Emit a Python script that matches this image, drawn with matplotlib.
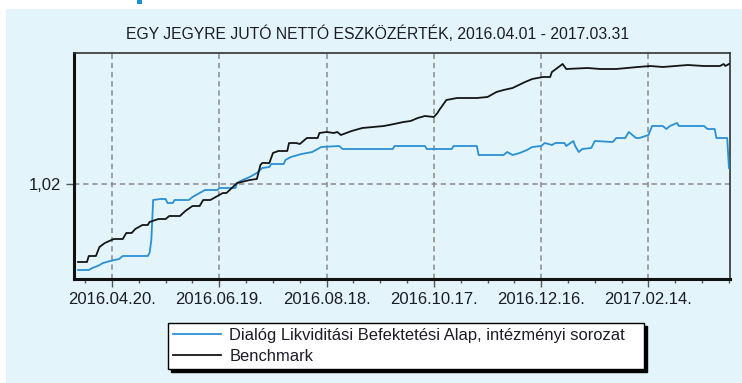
import matplotlib
matplotlib.use('Agg')

import matplotlib.pyplot as plt
import matplotlib.dates as mdates
import matplotlib.ticker as ticker
from matplotlib.patches import Rectangle
import pandas as pd

plt.rcParams['font.family'] = ['Liberation Sans', 'DejaVu Sans']

title = 'EGY JEGYRE JUTÓ NETTÓ ESZKÖZÉRTÉK, 2016.04.01 - 2017.03.31'
fund_label = 'Dialóg Likviditási Befektetési Alap, intézményi sorozat'
bench_label = 'Benchmark'

# net asset value per unit
fund_dates = ['2016-04-01', '2016-04-07', '2016-04-09', '2016-04-12', '2016-04-15',
              '2016-04-19', '2016-04-24', '2016-04-26', '2016-05-10', '2016-05-11',
              '2016-05-12', '2016-05-13', '2016-05-17', '2016-05-20', '2016-05-21',
              '2016-05-24', '2016-05-25', '2016-06-02', '2016-06-04', '2016-06-08',
              '2016-06-11', '2016-06-18', '2016-06-19', '2016-06-28', '2016-06-29',
              '2016-07-02', '2016-07-06', '2016-07-10', '2016-07-13', '2016-07-17',
              '2016-07-18', '2016-07-25', '2016-07-26', '2016-07-29', '2016-08-04',
              '2016-08-10', '2016-08-15', '2016-08-25', '2016-08-27', '2016-09-24',
              '2016-09-25', '2016-10-12', '2016-10-13', '2016-10-27', '2016-10-28',
              '2016-11-10', '2016-11-11', '2016-11-25', '2016-11-27', '2016-11-30',
              '2016-12-04', '2016-12-08', '2016-12-11', '2016-12-16', '2016-12-18',
              '2016-12-22', '2016-12-24', '2016-12-29', '2016-12-30', '2017-01-03',
              '2017-01-04', '2017-01-06', '2017-01-08', '2017-01-13', '2017-01-15',
              '2017-01-25', '2017-01-27', '2017-02-01', '2017-02-03', '2017-02-07',
              '2017-02-09', '2017-02-14', '2017-02-16', '2017-02-22', '2017-02-24',
              '2017-02-26', '2017-03-02', '2017-03-03', '2017-03-17', '2017-03-19',
              '2017-03-23', '2017-03-24', '2017-03-30', '2017-03-31']
fund_values = [1.0114, 1.0114, 1.0116, 1.0118, 1.0121,
               1.0123, 1.0125, 1.0128, 1.0128, 1.0131,
               1.0144, 1.0184, 1.0185, 1.0185, 1.0181,
               1.0181, 1.0184, 1.0184, 1.0187, 1.0191,
               1.0194, 1.0194, 1.0196, 1.0196, 1.0201,
               1.0204, 1.0207, 1.0211, 1.0216, 1.0217,
               1.0220, 1.0220, 1.0224, 1.0227, 1.0230,
               1.0232, 1.0237, 1.0238, 1.0235, 1.0235,
               1.0238, 1.0238, 1.0235, 1.0235, 1.0238,
               1.0238, 1.0229, 1.0229, 1.0232, 1.0229,
               1.0231, 1.0234, 1.0237, 1.0238, 1.0241,
               1.0239, 1.0241, 1.0241, 1.0238, 1.0243,
               1.0238, 1.0232, 1.0235, 1.0236, 1.0243,
               1.0242, 1.0246, 1.0246, 1.0252, 1.0246,
               1.0246, 1.0249, 1.0258, 1.0258, 1.0255,
               1.0258, 1.0261, 1.0258, 1.0258, 1.0255,
               1.0255, 1.0246, 1.0246, 1.0216]

bench_dates = ['2016-04-01', '2016-04-06', '2016-04-07', '2016-04-11', '2016-04-13',
               '2016-04-16', '2016-04-21', '2016-04-26', '2016-04-28', '2016-05-01',
               '2016-05-03', '2016-05-07', '2016-05-10', '2016-05-11', '2016-05-16',
               '2016-05-20', '2016-05-22', '2016-05-28', '2016-05-31', '2016-06-04',
               '2016-06-08', '2016-06-10', '2016-06-14', '2016-06-17', '2016-06-21',
               '2016-06-23', '2016-06-29', '2016-07-06', '2016-07-10', '2016-07-12',
               '2016-07-13', '2016-07-17', '2016-07-19', '2016-07-22', '2016-07-27',
               '2016-07-28', '2016-08-01', '2016-08-03', '2016-08-07', '2016-08-13',
               '2016-08-14', '2016-08-18', '2016-08-22', '2016-08-24', '2016-08-26',
               '2016-08-29', '2016-09-01', '2016-09-07', '2016-09-19', '2016-09-22',
               '2016-09-30', '2016-10-04', '2016-10-08', '2016-10-12', '2016-10-17',
               '2016-10-19', '2016-10-20', '2016-10-24', '2016-10-30', '2016-11-10',
               '2016-11-16', '2016-11-21', '2016-11-25', '2016-11-30', '2016-12-07',
               '2016-12-11', '2016-12-17', '2016-12-21', '2016-12-22', '2016-12-28',
               '2016-12-30', '2017-01-11', '2017-01-18', '2017-01-27', '2017-02-08',
               '2017-02-15', '2017-02-22', '2017-03-08', '2017-03-17', '2017-03-26',
               '2017-03-28', '2017-03-29', '2017-03-31']
bench_values = [1.0122, 1.0122, 1.0128, 1.0128, 1.0137,
                1.0141, 1.0145, 1.0145, 1.0151, 1.0151,
                1.0155, 1.0159, 1.0159, 1.0162, 1.0165,
                1.0165, 1.0168, 1.0168, 1.0173, 1.0178,
                1.0178, 1.0184, 1.0184, 1.0187, 1.0191,
                1.0191, 1.0201, 1.0204, 1.0205, 1.0219,
                1.0221, 1.0221, 1.0231, 1.0233, 1.0233,
                1.0241, 1.0241, 1.0240, 1.0246, 1.0246,
                1.0251, 1.0252, 1.0251, 1.0252, 1.0249,
                1.0251, 1.0253, 1.0256, 1.0258, 1.0259,
                1.0262, 1.0263, 1.0266, 1.0268, 1.0267,
                1.0271, 1.0274, 1.0284, 1.0286, 1.0286,
                1.0287, 1.0292, 1.0294, 1.0296, 1.0302,
                1.0305, 1.0307, 1.0307, 1.0312, 1.0320,
                1.0315, 1.0316, 1.0315, 1.0315, 1.0317,
                1.0318, 1.0317, 1.0319, 1.0318, 1.0318,
                1.0320, 1.0318, 1.0320]

y_ticks = [1.02]
y_tick_labels = ['1,02']

bg = '#e3f4fa'
txt = '#1c1c28'

fig = plt.figure(figsize=(7.42, 3.83), dpi=100, facecolor='white')
fig.patches.append(Rectangle((6 / 742, 0), 1, 1 - 9 / 383, transform=fig.transFigure,
                             facecolor=bg, edgecolor='none', zorder=-10))
fig.patches.append(Rectangle((137 / 742, 1 - 4 / 383), 5 / 742, 4 / 383, transform=fig.transFigure,
                             facecolor='#1f8fd2', edgecolor='none', zorder=-9))

ax = fig.add_axes([74 / 742, 1 - 279 / 383, 656 / 742, 226 / 383])
ax.set_facecolor(bg)

ax.plot(pd.to_datetime(fund_dates), fund_values, color='#2a90d4', lw=1.3, label=fund_label, zorder=3)
ax.plot(pd.to_datetime(bench_dates), bench_values, color='#151515', lw=1.3, label=bench_label, zorder=4)

ax.set_xlim(pd.Timestamp('2016-03-29 18:00'), pd.Timestamp('2017-03-31 14:00'))
ax.set_ylim(1.0105, 1.0331)

major_days = pd.date_range('2016-04-20', periods=6, freq='60D')
minor_days = pd.date_range('2016-04-05', '2017-03-31', freq='15D')
ax.xaxis.set_major_locator(ticker.FixedLocator(mdates.date2num(major_days)))
ax.xaxis.set_minor_locator(ticker.FixedLocator(mdates.date2num(minor_days)))
ax.xaxis.set_major_formatter(mdates.DateFormatter('%Y.%m.%d.'))
ax.yaxis.set_major_locator(ticker.FixedLocator(y_ticks))
ax.yaxis.set_major_formatter(ticker.FixedFormatter(y_tick_labels))

ax.tick_params(which='major', direction='out', length=6, width=1, color='#555555',
               labelsize=12, labelcolor=txt, pad=3)
ax.tick_params(which='minor', direction='out', length=3, width=1, color='#555555')

ax.grid(True, which='major', color='#8a8a8a', lw=1.1, ls=(0, (3.5, 2.5)), zorder=1)

for side in ['left', 'bottom']:
    ax.spines[side].set_linewidth(2.2)
    ax.spines[side].set_color('#111111')
for side in ['top', 'right']:
    ax.spines[side].set_linewidth(1.2)
    ax.spines[side].set_color('#333333')

fig.text(378 / 742, 1 - 34 / 383, title, ha='center', va='center', fontsize=11.3, color=txt)

leg = ax.legend(loc='center', bbox_to_anchor=(168 / 742, 1 - 369 / 383, 476 / 742, 46 / 383),
                bbox_transform=fig.transFigure, mode='expand', fontsize=11.9,
                frameon=True, fancybox=False, shadow={'color': 'black', 'alpha': 1},
                handlelength=2.9, handletextpad=0.5, labelspacing=0.35, borderpad=0.3,
                borderaxespad=0)
leg.get_frame().set_edgecolor('black')
leg.get_frame().set_linewidth(1.0)
leg.get_frame().set_facecolor('white')
for t in leg.get_texts():
    t.set_color(txt)

fig.savefig('out.png', dpi=100, facecolor=fig.get_facecolor())
